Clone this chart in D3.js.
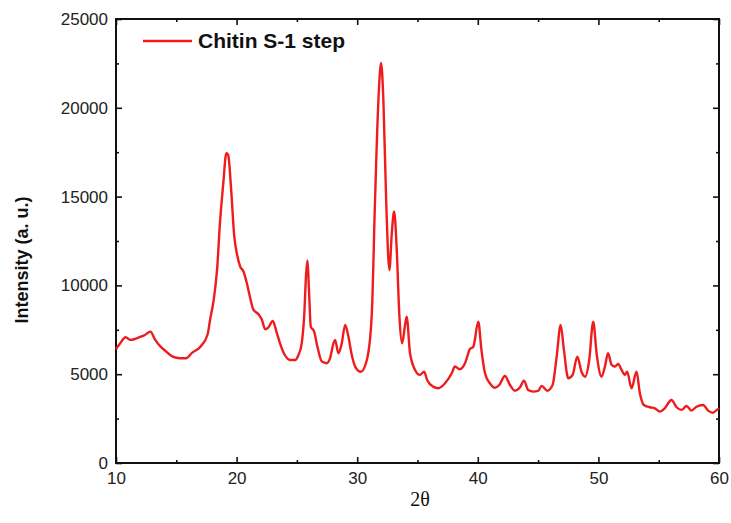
<!DOCTYPE html>
<html>
<head>
<meta charset="utf-8">
<script src="https://cdn.jsdelivr.net/npm/d3@7"></script>
<style>
  html, body { margin: 0; padding: 0; background: #fff; }
  svg { display: block; }
</style>
</head>
<body>
<svg id="chart" width="731" height="523"></svg>
<script>
// ---- data ----
const seriesName = "Chitin S-1 step";
const twoTheta = [
  10.0, 10.3, 10.8, 11.2, 11.6, 12.0, 12.4, 12.85, 13.25, 13.7, 14.1, 14.7, 15.3, 15.8, 16.3, 17.0, 17.6, 17.8, 18.1, 18.4,
  18.6, 18.9, 19.15, 19.3, 19.55, 19.8, 20.05, 20.3, 20.57, 20.85, 21.13, 21.4, 21.8, 22.1, 22.37, 22.64, 23.0, 23.34, 23.6, 24.0,
  24.44, 24.85, 25.13, 25.4, 25.6, 25.77, 25.88, 26.0, 26.15, 26.43, 26.7, 27.07, 27.48, 27.75, 28.03, 28.17, 28.44, 28.72, 29.0, 29.27,
  29.55, 29.83, 30.3, 30.8, 31.2, 31.48, 31.76, 31.98, 32.17, 32.4, 32.67, 32.87, 33.06, 33.28, 33.5, 33.72, 33.97, 34.1, 34.38, 34.8,
  35.2, 35.55, 35.8, 36.3, 36.73, 37.28, 37.84, 38.1, 38.5, 38.94, 39.35, 39.63, 40.04, 40.3, 40.6, 41.0, 41.42, 41.78, 42.25, 42.67,
  43.08, 43.5, 43.83, 44.18, 44.6, 45.0, 45.3, 45.76, 46.2, 46.54, 46.87, 47.14, 47.5, 47.86, 48.25, 48.6, 48.9, 49.24, 49.57, 49.85,
  50.26, 50.54, 50.8, 51.1, 51.37, 51.64, 51.92, 52.2, 52.38, 52.75, 53.16, 53.44, 53.77, 54.27, 54.68, 55.1, 55.5, 56.06, 56.48, 56.9,
  57.3, 57.72, 58.13, 58.68, 59.1, 59.5, 59.93, 60.0
];
const intensity = [
  6420, 6700, 7080, 6930, 6990, 7100, 7210, 7400, 6930, 6550, 6310, 5990, 5900, 5900, 6200, 6550, 7250, 8060, 9180, 11060,
  13310, 15780, 17450, 17350, 15380, 12800, 11700, 11060, 10780, 10120, 9280, 8620, 8390, 8060, 7530, 7640, 8000, 7310, 6740, 6080,
  5800, 5800, 6080, 6740, 8240, 10700, 11400, 9750, 7680, 7400, 6550, 5710, 5620, 5900, 6740, 6930, 6180, 6740, 7770, 7120,
  6080, 5430, 5140, 5800, 8240, 14820, 20450, 22520, 20450, 14820, 10870, 12940, 14160, 12000, 8240, 6740, 7770, 8240, 6180, 5240,
  4960, 5140, 4680, 4300, 4210, 4490, 5050, 5430, 5280, 5620, 6420, 6550, 7960, 6370, 5050, 4490, 4240, 4390, 4900, 4390,
  4070, 4260, 4640, 4110, 4020, 4060, 4340, 4070, 4390, 5990, 7770, 6370, 4770, 4960, 5990, 5140, 4860, 5800, 7960, 6180,
  4860, 5430, 6180, 5520, 5430, 5580, 5240, 4960, 5140, 4210, 5140, 3930, 3270, 3140, 3080, 2890, 3080, 3550, 3140, 2990,
  3210, 2950, 3170, 3270, 2950, 2830, 3030, 3000
];
const xTicks = [10, 20, 30, 40, 50, 60];
const xMinorTicks = [15, 25, 35, 45, 55];
const yTicks = [0, 5000, 10000, 15000, 20000, 25000];
const yMinorTicks = [2500, 7500, 12500, 17500, 22500];
const xTitle = "2θ";
const yTitle = "Intensity (a. u.)";

// ---- layout ----
const svg = d3.select("#chart");
const mLeft = 116, mRight = 719, mTop = 19, mBottom = 463;
const x = d3.scaleLinear().domain([10, 60]).range([mLeft, mRight]);
const y = d3.scaleLinear().domain([0, 25000]).range([mBottom, mTop]);

const data = twoTheta.map((t, i) => ({ t, v: intensity[i] }));

const sansFont = "'Liberation Sans', Arial, Helvetica, sans-serif";

function styleAxis(g, showText) {
  g.select(".domain").remove();
  g.selectAll(".tick line").attr("stroke", "#111").attr("stroke-width", 1.6);
  g.selectAll(".tick text")
    .attr("font-family", sansFont)
    .attr("font-size", 17)
    .attr("fill", "#222");
  if (!showText) g.selectAll(".tick text").remove();
}

// bottom axis
svg.append("g").attr("transform", `translate(0,${mBottom})`)
  .call(d3.axisBottom(x).tickValues(xTicks).tickFormat(d3.format("d")).tickSizeInner(-6).tickSizeOuter(0).tickPadding(9))
  .call(g => styleAxis(g, true));
svg.append("g").attr("transform", `translate(0,${mBottom})`)
  .call(d3.axisBottom(x).tickValues(xMinorTicks).tickSizeInner(-3).tickSizeOuter(0))
  .call(g => styleAxis(g, false));
// top axis
svg.append("g").attr("transform", `translate(0,${mTop})`)
  .call(d3.axisTop(x).tickValues(xTicks).tickSizeInner(-6).tickSizeOuter(0))
  .call(g => styleAxis(g, false));
svg.append("g").attr("transform", `translate(0,${mTop})`)
  .call(d3.axisTop(x).tickValues(xMinorTicks).tickSizeInner(-3).tickSizeOuter(0))
  .call(g => styleAxis(g, false));
// left axis
svg.append("g").attr("transform", `translate(${mLeft},0)`)
  .call(d3.axisLeft(y).tickValues(yTicks).tickFormat(d3.format("d")).tickSizeInner(-6).tickSizeOuter(0).tickPadding(8))
  .call(g => styleAxis(g, true));
svg.append("g").attr("transform", `translate(${mLeft},0)`)
  .call(d3.axisLeft(y).tickValues(yMinorTicks).tickSizeInner(-3).tickSizeOuter(0))
  .call(g => styleAxis(g, false));
// right axis
svg.append("g").attr("transform", `translate(${mRight},0)`)
  .call(d3.axisRight(y).tickValues(yTicks).tickSizeInner(-6).tickSizeOuter(0))
  .call(g => styleAxis(g, false));
svg.append("g").attr("transform", `translate(${mRight},0)`)
  .call(d3.axisRight(y).tickValues(yMinorTicks).tickSizeInner(-3).tickSizeOuter(0))
  .call(g => styleAxis(g, false));

// frame
svg.append("rect")
  .attr("x", mLeft).attr("y", mTop)
  .attr("width", mRight - mLeft).attr("height", mBottom - mTop)
  .attr("fill", "none").attr("stroke", "#111").attr("stroke-width", 2);

// series line
const line = d3.line().x(d => x(d.t)).y(d => y(d.v)).curve(d3.curveMonotoneX);
svg.append("path")
  .datum(data)
  .attr("d", line)
  .attr("fill", "none")
  .attr("stroke", "#ee1c1c")
  .attr("stroke-width", 2.4)
  .attr("stroke-linejoin", "round");

// legend
svg.append("line")
  .attr("x1", 143).attr("x2", 192).attr("y1", 41).attr("y2", 41)
  .attr("stroke", "#ee1c1c").attr("stroke-width", 2.4);
svg.append("text")
  .attr("x", 198).attr("y", 48)
  .attr("font-family", sansFont).attr("font-weight", "bold").attr("font-size", 21)
  .attr("fill", "#111")
  .text(seriesName);

// axis titles
svg.append("text")
  .attr("transform", `translate(28,${(mTop + mBottom) / 2 + 19}) rotate(-90)`)
  .attr("text-anchor", "middle")
  .attr("font-family", sansFont).attr("font-weight", "bold").attr("font-size", 18)
  .attr("fill", "#111")
  .text(yTitle);
svg.append("text")
  .attr("x", 420).attr("y", 506)
  .attr("text-anchor", "middle")
  .attr("font-family", "'Liberation Serif', 'Times New Roman', serif").attr("font-size", 20)
  .attr("fill", "#111")
  .text(xTitle);
</script>
</body>
</html>
